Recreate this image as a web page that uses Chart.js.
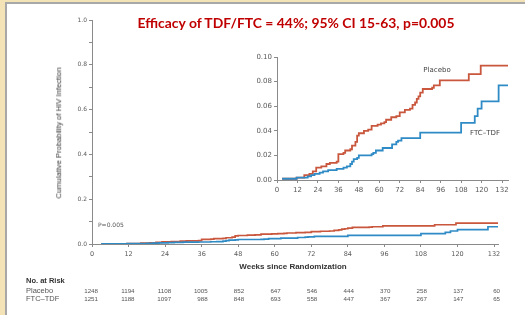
<!DOCTYPE html>
<html>
<head>
<meta charset="utf-8">
<script src="https://cdn.jsdelivr.net/npm/chart.js@4.4.1/dist/chart.umd.min.js"></script>
<style>
  body { margin: 0; width: 525px; height: 315px; overflow: hidden; position: relative; background: #f3e3b6; font-family: "DejaVu Sans", sans-serif; }
  #panel { position: absolute; left: 5px; top: 2px; right: 0; bottom: 0; background: #fff; border-left: 2px solid #a8a8a8; border-top: 2px solid #a8a8a8; }
  canvas { position: absolute; }
  #main { left: 0; top: 0; }
  #inset { left: 240px; top: 45px; }
  .lbl { position: absolute; white-space: nowrap; line-height: 1; }
</style>
</head>
<body>
<div id="panel"></div>
<canvas id="main" width="525" height="315"></canvas>
<canvas id="inset" width="280" height="155"></canvas>
<script>
// Kaplan-Meier steps (weeks, cumulative probability)
const placeboWeeks = [3, 11.5, 16, 19, 21, 23, 26, 29, 31, 35, 36, 39, 40, 43, 44, 46, 47, 48, 51, 53.5, 55.5, 59, 61, 63, 64, 67, 70, 72, 75, 78, 79.5, 81, 82, 83, 84, 85.5, 91, 92, 95.5, 112.5, 119.5, 135.5]
const placeboProb = [0.001, 0.002, 0.004, 0.005, 0.007, 0.010, 0.011, 0.013, 0.014, 0.015, 0.021, 0.022, 0.024, 0.025, 0.028, 0.031, 0.036, 0.038, 0.040, 0.041, 0.044, 0.045, 0.046, 0.047, 0.049, 0.051, 0.052, 0.055, 0.057, 0.058, 0.061, 0.063, 0.066, 0.068, 0.071, 0.074, 0.075, 0.077, 0.081, 0.086, 0.093, 0.093]

const ftcWeeks = [3, 11.5, 18, 20, 22, 25, 27, 30, 35, 39, 41, 43, 44, 45, 47, 48, 55.5, 56.5, 58, 62, 67.5, 70, 71, 73, 84, 108, 116, 117.7, 120, 130, 135.5]
const ftcProb = [0.001, 0.002, 0.003, 0.004, 0.005, 0.006, 0.007, 0.008, 0.009, 0.010, 0.011, 0.013, 0.015, 0.017, 0.018, 0.020, 0.021, 0.022, 0.024, 0.026, 0.029, 0.031, 0.032, 0.034, 0.0385, 0.0465, 0.052, 0.058, 0.064, 0.077, 0.077]

const weekTicks = [0, 12, 24, 36, 48, 60, 72, 84, 96, 108, 120, 132]
const placeboAtRisk = [1248, 1194, 1108, 1005, 852, 647, 546, 444, 370, 258, 137, 60]
const ftcAtRisk = [1251, 1188, 1097, 988, 848, 693, 558, 447, 367, 267, 147, 65]

const RED = '#c9573d'
const BLUE = '#2f8bc6'
const AXIS = '#8a8a8a'
const TICK_TEXT = '#5a5a5a'

const toPoints = (weeks, probs) => weeks.map((w, i) => ({ x: w, y: probs[i] }))

const datasets = (width) => [
  { label: 'FTC–TDF', data: toPoints(ftcWeeks, ftcProb), borderColor: BLUE, borderWidth: width, stepped: true, pointRadius: 0 },
  { label: 'Placebo', data: toPoints(placeboWeeks, placeboProb), borderColor: RED, borderWidth: width, stepped: true, pointRadius: 0 }
]

const axisStyle = (fontSize) => ({
  border: { display: true, color: AXIS, width: 1 },
  grid: { display: true, drawOnChartArea: false, drawTicks: true, tickLength: 3, color: AXIS },
  ticks: { color: TICK_TEXT, font: { family: 'DejaVu Sans', size: fontSize }, padding: 2 }
})

const mainX = axisStyle(6.5)
const mainY = axisStyle(6)

const mainChart = new Chart(document.getElementById('main'), {
  type: 'line',
  data: { datasets: datasets(1.7) },
  options: {
    responsive: false,
    animation: false,
    layout: { padding: { left: 0, right: 27, top: 20, bottom: 0 } },
    plugins: { legend: { display: false }, tooltip: { enabled: false } },
    scales: {
      x: {
        ...mainX,
        type: 'linear',
        min: 0,
        max: 133.3,
        ticks: { ...mainX.ticks, padding: 3, maxRotation: 0 },
        afterBuildTicks: (s) => { s.ticks = weekTicks.map((v) => ({ value: v })) },
        afterFit: (s) => { s.height = 71 }
      },
      y: {
        ...mainY,
        min: 0,
        max: 1,
        ticks: {
          ...mainY.ticks,
          stepSize: 0.1,
          callback: (v) => (Math.round(v * 10) % 2 === 0 ? v.toFixed(1) : '')
        },
        afterFit: (s) => { s.width = 92 }
      }
    }
  }
})

const insetX = axisStyle(7)
const insetY = axisStyle(7)

new Chart(document.getElementById('inset'), {
  type: 'line',
  data: { datasets: datasets(1.8) },
  options: {
    responsive: false,
    animation: false,
    layout: { padding: { left: 0, right: 12, top: 12, bottom: 0 } },
    plugins: { legend: { display: false }, tooltip: { enabled: false } },
    scales: {
      x: {
        ...insetX,
        type: 'linear',
        min: 0,
        max: 135.5,
        ticks: { ...insetX.ticks, padding: 3, maxRotation: 0 },
        afterBuildTicks: (s) => { s.ticks = weekTicks.map((v) => ({ value: v })) },
        afterFit: (s) => { s.height = 20 }
      },
      y: {
        ...insetY,
        min: 0,
        max: 0.1,
        ticks: { ...insetY.ticks, stepSize: 0.02, callback: (v) => v.toFixed(2) },
        afterFit: (s) => { s.width = 37 }
      }
    }
  }
})

// text placed as html on top of the canvases
const addText = (text, x, y, style, align = 'left') => {
  const el = document.createElement('div')
  el.className = 'lbl'
  el.textContent = text
  Object.assign(el.style, style)
  el.style.left = x + 'px'
  el.style.top = y + 'px'
  const shiftX = align === 'center' ? '-50%' : align === 'right' ? '-100%' : '0'
  el.style.transform = `translate(${shiftX}, -50%)`
  document.body.appendChild(el)
  return el
}

addText('Efficacy of TDF/FTC = 44%; 95% CI 15-63, p=0.005', 296, 23,
  { fontFamily: 'Lato', fontWeight: 'bold', fontSize: '13.9px', color: '#c00000' }, 'center')

const yTitle = addText('Cumulative Probability of HIV Infection', 59, 133,
  { fontFamily: 'Liberation Sans', fontSize: '7.7px', color: '#333' }, 'center')
yTitle.style.transform = 'translate(-50%, -50%) rotate(-90deg)'

addText('Weeks since Randomization', 293, 267,
  { fontFamily: 'Liberation Sans', fontWeight: 'bold', fontSize: '8px', color: '#333' }, 'center')

addText('P=0.005', 98, 225, { fontSize: '6px', color: '#555' })
addText('Placebo', 437, 70, { fontSize: '7px', color: '#444' }, 'center')
addText('FTC–TDF', 485, 133, { fontSize: '7px', color: '#444' }, 'center')

addText('No. at Risk', 26, 281, { fontFamily: 'Liberation Sans', fontWeight: 'bold', fontSize: '7.5px', color: '#333' })
addText('Placebo', 26, 291, { fontFamily: 'Liberation Sans', fontSize: '7.5px', color: '#555' })
addText('FTC–TDF', 26, 299, { fontFamily: 'Liberation Sans', fontSize: '7.5px', color: '#555' })

const xScale = mainChart.scales.x
weekTicks.forEach((w, i) => {
  const px = xScale.getPixelForValue(w) + 6
  const numStyle = { fontFamily: 'Liberation Sans', fontSize: '6.2px', color: '#555' }
  addText(String(placeboAtRisk[i]), px, 291, numStyle, 'right')
  addText(String(ftcAtRisk[i]), px, 299, numStyle, 'right')
})
</script>
</body>
</html>
